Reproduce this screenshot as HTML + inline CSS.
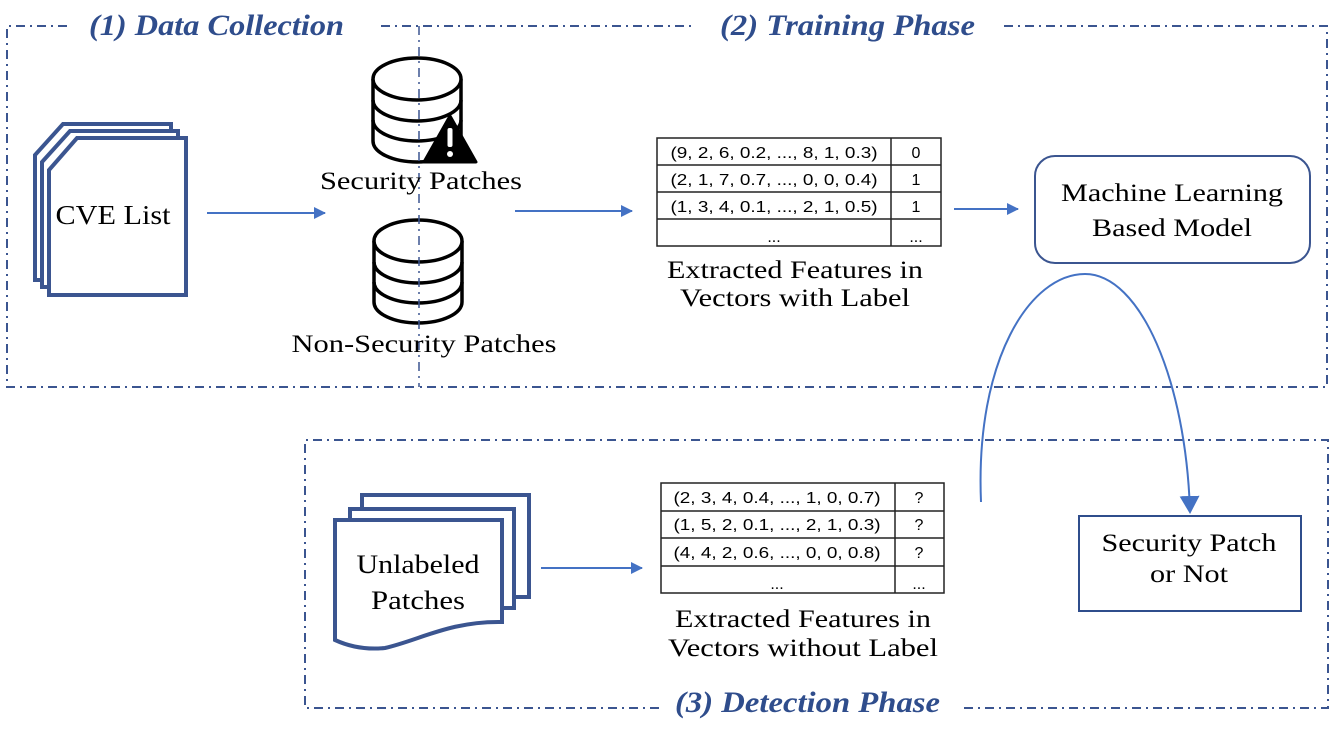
<!DOCTYPE html>
<html><head><meta charset="utf-8"><style>
html,body{margin:0;padding:0;background:#fff}
svg{display:block}
text{font-family:"Liberation Serif",serif;fill:#000}
.t{font-family:"Liberation Serif",serif;font-weight:bold;font-style:italic;fill:#2f4d8c;font-size:30px}
.tb{font-family:"Liberation Sans",sans-serif;font-size:16px}
</style></head><body>
<svg width="1336" height="732" viewBox="0 0 1336 732" xmlns="http://www.w3.org/2000/svg">
<defs>
<marker id="ah" markerWidth="12" markerHeight="12" refX="11" refY="6" orient="auto" markerUnits="userSpaceOnUse">
<path d="M0,0 L12,6 L0,12 z" fill="#4472c4"/></marker>
<marker id="ah2" markerWidth="18" markerHeight="20" refX="16" refY="10" orient="auto" markerUnits="userSpaceOnUse">
<path d="M0,0 L18,10 L0,20 z" fill="#4472c4"/></marker>
</defs>
<g stroke="#3b5590" stroke-width="2" fill="none" stroke-dasharray="9 5 2 5">
<path d="M67,26 L7,26 L7,387 L419,387"/>
<path d="M381,26 L693,26"/>
<path d="M1004,26 L1327,26 L1327,387 L419,387"/>
<path d="M659,708 L305,708 L305,440 L1328,440 L1328,708 L964,708"/>
</g>
<text class="t" x="89" y="35" textLength="255" lengthAdjust="spacingAndGlyphs">(1) Data Collection</text>
<text class="t" x="720" y="35" textLength="255" lengthAdjust="spacingAndGlyphs">(2) Training Phase</text>
<text class="t" x="675" y="712" textLength="265" lengthAdjust="spacingAndGlyphs">(3) Detection Phase</text>

<g stroke="#3b5590" stroke-width="4" fill="#fff">
<path d="M63,124 L171,124 L171,280 L35,280 L35,155 Z"/>
<path d="M70,131 L178,131 L178,287 L42,287 L42,162 Z"/>
<path d="M77,138 L186,138 L186,295 L49,295 L49,170 Z"/>
</g>
<text x="113" y="224" font-size="27" text-anchor="middle" textLength="115" lengthAdjust="spacingAndGlyphs">CVE List</text>

<g stroke="#4472c4" stroke-width="2" fill="none" marker-end="url(#ah)">
<line x1="207" y1="213" x2="325" y2="213"/>
<line x1="515" y1="211" x2="632" y2="211"/>
<line x1="954" y1="209" x2="1018" y2="209"/>
<line x1="541" y1="568" x2="642" y2="568"/>
</g>
<path d="M981,502 C975,360 1030,274 1085,274 C1140,274 1186,380 1190,512" stroke="#4472c4" stroke-width="2" fill="none" marker-end="url(#ah2)"/>

<g stroke="#000" stroke-width="3.5" fill="#fff">
<path d="M373,79 L373,141 A44,21 0 0 0 461,141 L461,79"/>
<ellipse cx="417" cy="79" rx="44" ry="21"/>
<path d="M373,100 A44,21 0 0 0 461,100" fill="none"/>
<path d="M373,120 A44,21 0 0 0 461,120" fill="none"/>
<path d="M374,241 L374,302 A44,21 0 0 0 462,302 L462,241"/>
<ellipse cx="418" cy="241" rx="44" ry="21"/>
<path d="M374,262 A44,21 0 0 0 462,262" fill="none"/>
<path d="M374,282 A44,21 0 0 0 462,282" fill="none"/>
</g>
<path d="M450,116 L476,162 L424,162 Z" fill="#000" stroke="#000" stroke-width="3" stroke-linejoin="round"/>
<rect x="447.5" y="128" width="5" height="19" rx="2" fill="#fff"/>
<circle cx="450" cy="154" r="3" fill="#fff"/>
<g stroke="#3b5590" stroke-width="1.5" stroke-dasharray="9 5 2 5"><line x1="419" y1="26" x2="419" y2="387"/></g>
<text x="421" y="189" font-size="25" text-anchor="middle" textLength="202" lengthAdjust="spacingAndGlyphs">Security Patches</text>
<text x="424" y="352" font-size="25" text-anchor="middle" textLength="265" lengthAdjust="spacingAndGlyphs">Non-Security Patches</text>

<g stroke="#222" stroke-width="1.5" fill="none">
<rect x="657" y="138" width="284" height="108"/>
<line x1="657" y1="165" x2="941" y2="165"/>
<line x1="657" y1="192" x2="941" y2="192"/>
<line x1="657" y1="219" x2="941" y2="219"/>
<line x1="891" y1="138" x2="891" y2="246"/>
</g>
<g text-anchor="middle">
<text class="tb" x="774" y="158" textLength="207" lengthAdjust="spacingAndGlyphs">(9, 2, 6, 0.2, ..., 8, 1, 0.3)</text>
<text class="tb" x="774" y="185" textLength="207" lengthAdjust="spacingAndGlyphs">(2, 1, 7, 0.7, ..., 0, 0, 0.4)</text>
<text class="tb" x="774" y="212" textLength="207" lengthAdjust="spacingAndGlyphs">(1, 3, 4, 0.1, ..., 2, 1, 0.5)</text>
<text class="tb" x="774" y="242">...</text>
<text class="tb" x="916" y="158">0</text>
<text class="tb" x="916" y="185">1</text>
<text class="tb" x="916" y="212">1</text>
<text class="tb" x="916" y="242">...</text>
</g>
<text x="795" y="278" font-size="25" text-anchor="middle" textLength="256" lengthAdjust="spacingAndGlyphs">Extracted Features in</text>
<text x="795" y="306" font-size="25" text-anchor="middle" textLength="230" lengthAdjust="spacingAndGlyphs">Vectors with Label</text>

<rect x="1035" y="156" width="275" height="107" rx="20" stroke="#3b5590" stroke-width="2" fill="#fff"/>
<text x="1172" y="201" font-size="25" text-anchor="middle" textLength="222" lengthAdjust="spacingAndGlyphs">Machine Learning</text>
<text x="1172" y="236" font-size="25" text-anchor="middle" textLength="160" lengthAdjust="spacingAndGlyphs">Based Model</text>

<rect x="1079" y="516" width="222" height="95" stroke="#2f4d8c" stroke-width="2" fill="#fff"/>
<text x="1189" y="551" font-size="25" text-anchor="middle" textLength="175" lengthAdjust="spacingAndGlyphs">Security Patch</text>
<text x="1189" y="582" font-size="25" text-anchor="middle" textLength="78" lengthAdjust="spacingAndGlyphs">or Not</text>

<g stroke="#3b5590" stroke-width="4" fill="#fff">
<path d="M362,495 L529,495 L529,597 L362,597 Z"/>
<path d="M350,509 L514,509 L514,608 L350,608 Z"/>
<path d="M335,520 L502,520 L502,622 C450,621 420,640 385,648 C365,650 348,646 335,640 Z"/>
</g>
<text x="418" y="573" font-size="26" text-anchor="middle" textLength="123" lengthAdjust="spacingAndGlyphs">Unlabeled</text>
<text x="418" y="609" font-size="26" text-anchor="middle" textLength="94" lengthAdjust="spacingAndGlyphs">Patches</text>

<g stroke="#222" stroke-width="1.5" fill="none">
<rect x="661" y="483" width="283" height="110"/>
<line x1="661" y1="511" x2="944" y2="511"/>
<line x1="661" y1="538" x2="944" y2="538"/>
<line x1="661" y1="566" x2="944" y2="566"/>
<line x1="895" y1="483" x2="895" y2="593"/>
</g>
<g text-anchor="middle">
<text class="tb" x="777" y="503" textLength="207" lengthAdjust="spacingAndGlyphs">(2, 3, 4, 0.4, ..., 1, 0, 0.7)</text>
<text class="tb" x="777" y="530" textLength="207" lengthAdjust="spacingAndGlyphs">(1, 5, 2, 0.1, ..., 2, 1, 0.3)</text>
<text class="tb" x="777" y="558" textLength="207" lengthAdjust="spacingAndGlyphs">(4, 4, 2, 0.6, ..., 0, 0, 0.8)</text>
<text class="tb" x="777" y="589">...</text>
<text class="tb" x="919" y="503">?</text>
<text class="tb" x="919" y="530">?</text>
<text class="tb" x="919" y="558">?</text>
<text class="tb" x="919" y="589">...</text>
</g>
<text x="803" y="627" font-size="25" text-anchor="middle" textLength="256" lengthAdjust="spacingAndGlyphs">Extracted Features in</text>
<text x="803" y="656" font-size="25" text-anchor="middle" textLength="270" lengthAdjust="spacingAndGlyphs">Vectors without Label</text>
</svg>
</body></html>
